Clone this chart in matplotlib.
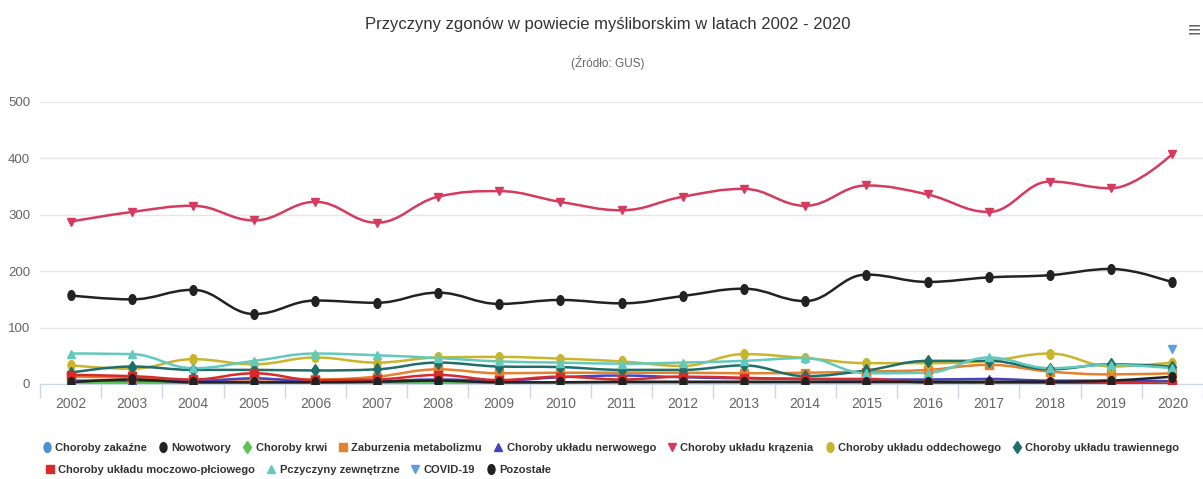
import numpy as np
import matplotlib.pyplot as plt
from matplotlib.path import Path
from matplotlib.patches import PathPatch
from matplotlib.lines import Line2D

plt.rcParams['font.family'] = ['Liberation Sans', 'DejaVu Sans']
plt.rcParams['font.stretch'] = 'condensed'

years = [str(y) for y in range(2002, 2021)]

zakazne = [2, 2, 1, 2, 1, 1, 2, 1, 0, 1, 1, 2, 1, 2, 1, 2, 1, 1, 0]
nowotwory = [157, 150, 167, 124, 148, 144, 162, 142, 149, 143, 156, 169, 147, 194, 181, 189, 193, 204, 180]
krwi = [1, 2, 1, 1, 1, 1, 1, 1, 1, 1, 1, 1, 1, 1, 1, 1, 1, 1, 1]
metabolizm = [13, 11, 7, 8, 8, 13, 26, 19, 20, 20, 20, 19, 20, 22, 25, 34, 22, 17, 19]
nerwowy = [6, 6, 5, 10, 4, 5, 8, 6, 12, 15, 12, 10, 9, 8, 8, 9, 6, 6, 5]
krazenie = [288, 305, 316, 290, 323, 286, 332, 342, 323, 308, 332, 346, 316, 352, 336, 305, 359, 347, 408]
oddechowy = [33, 27, 44, 35, 47, 38, 47, 48, 45, 40, 32, 53, 46, 37, 37, 41, 54, 31, 38]
trawienny = [20, 31, 25, 25, 24, 26, 38, 31, 30, 25, 25, 33, 14, 24, 41, 41, 26, 35, 31]
moczowy = [16, 14, 8, 19, 7, 8, 16, 7, 13, 8, 13, 11, 9, 9, 2, 1, 1, 2, 0]
zewnetrzne = [54, 53, 28, 41, 54, 51, 46, 40, 38, 36, 38, 41, 46, 19, 20, 47, 28, 34, 28]
covid = [np.nan] * 18 + [62]
pozostale = [3, 8, 3, 3, 3, 4, 6, 3, 3, 4, 4, 4, 4, 4, 4, 4, 4, 6, 13]

ell = Path(Path.unit_circle().vertices * [0.72, 1.0], Path.unit_circle().codes)

series = [
    ('Choroby zakaźne', zakazne, '#4f8fd0', ell),
    ('Nowotwory', nowotwory, '#222222', ell),
    ('Choroby krwi', krwi, '#5cc451', 'd'),
    ('Zaburzenia metabolizmu', metabolizm, '#e5802c', 's'),
    ('Choroby układu nerwowego', nerwowy, '#4545c4', '^'),
    ('Choroby układu krązenia', krazenie, '#d63a5e', 'v'),
    ('Choroby układu oddechowego', oddechowy, '#c9b52c', ell),
    ('Choroby układu trawiennego', trawienny, '#1f6e69', 'd'),
    ('Choroby układu moczowo-płciowego', moczowy, '#d72b2b', 's'),
    ('Pczyczyny zewnętrzne', zewnetrzne, '#62c9bf', '^'),
    ('COVID-19', covid, '#5d9ee0', 'v'),
    ('Pozostałe', pozostale, '#222222', ell),
]


def spline_path(xs, ys, s=1.5):
    # Highcharts-like spline through the data points
    pts = [(x, y) for x, y in zip(xs, ys) if not np.isnan(y)]
    n = len(pts)
    lc, rc = [], []
    for i, (x, y) in enumerate(pts):
        if 0 < i < n - 1:
            px, py = pts[i - 1]
            nx, ny = pts[i + 1]
            lx, ly = (s * x + px) / (s + 1), (s * y + py) / (s + 1)
            rx, ry = (s * x + nx) / (s + 1), (s * y + ny) / (s + 1)
            corr = (ry - ly) * (rx - x) / (rx - lx) + y - ry
            ly += corr
            ry += corr
            if ly > max(py, y):
                ly = max(py, y); ry = 2 * y - ly
            elif ly < min(py, y):
                ly = min(py, y); ry = 2 * y - ly
            if ry > max(ny, y):
                ry = max(ny, y); ly = 2 * y - ry
            elif ry < min(ny, y):
                ry = min(ny, y); ly = 2 * y - ry
            lc.append((lx, ly)); rc.append((rx, ry))
        else:
            lc.append((x, y)); rc.append((x, y))
    verts = [pts[0]]
    codes = [Path.MOVETO]
    for i in range(1, n):
        verts += [rc[i - 1], lc[i], pts[i]]
        codes += [Path.CURVE4] * 3
    return Path(verts, codes)


fig = plt.figure(figsize=(12.03, 4.79), dpi=100)
ax = fig.add_axes([40 / 1203, 95 / 479, 1 - 40 / 1203, 282 / 479])
x = np.arange(len(years))

for k, (name, vals, col, mk) in enumerate(series):
    v = np.array(vals, dtype=float)
    if np.sum(~np.isnan(v)) > 1:
        ax.add_patch(PathPatch(spline_path(x, v), fc='none', ec=col, lw=1.8, zorder=2 + k * 0.1))
    ax.plot(x, v, ls='none', marker=mk, color=col, ms=7 if mk is ell else 6, zorder=3 + k * 0.1)

ax.set_xlim(-0.5, len(years) - 0.5)
ax.set_ylim(0, 500)
ax.set_yticks([0, 100, 200, 300, 400, 500])
ax.set_xticks(x)
ax.set_xticklabels(years)
ax.set_xticks(np.arange(-0.5, len(years), 1), minor=True)
ax.tick_params(axis='x', which='major', length=0, pad=9, labelsize=10, labelcolor='#666666')
ax.tick_params(axis='x', which='minor', length=10, color='#ccd6eb', width=1)
ax.tick_params(axis='y', length=0, pad=7, labelsize=9.5, labelcolor='#666666')
ax.grid(axis='y', color='#e6e6e6', lw=1)
ax.set_axisbelow(True)
for sp in ['top', 'right', 'left']:
    ax.spines[sp].set_visible(False)
ax.spines['bottom'].set_color('#ccd6eb')

fig.text(0.505, 0.948, 'Przyczyny zgonów w powiecie myśliborskim w latach 2002 - 2020',
         ha='center', va='center', fontsize=12, color='#333333')
fig.text(0.505, 0.87, '(Źródło: GUS)', ha='center', va='center', fontsize=8.5, color='#666666')
fig.text(0.993, 0.935, '≡', ha='center', va='center', fontsize=16, color='#666666', fontweight='bold')

handles = [Line2D([], [], ls='none', marker=mk, color=col, ms=7 if mk is ell else 6)
           for name, vals, col, mk in series]
names = [s[0] for s in series]
leg_kw = dict(frameon=False, handlelength=0.7, handletextpad=0.4, columnspacing=1.1,
              prop={'weight': 'bold', 'size': 8})
leg1 = fig.legend(handles[:8], names[:8], ncol=8, loc='center', bbox_to_anchor=(0.508, 0.065), **leg_kw)
leg2 = fig.legend(handles[8:], names[8:], ncol=4, loc='center left', bbox_to_anchor=(0.03, 0.018), **leg_kw)
for leg in (leg1, leg2):
    for t in leg.get_texts():
        t.set_color('#333333')

fig.savefig('out.png', dpi=100)
